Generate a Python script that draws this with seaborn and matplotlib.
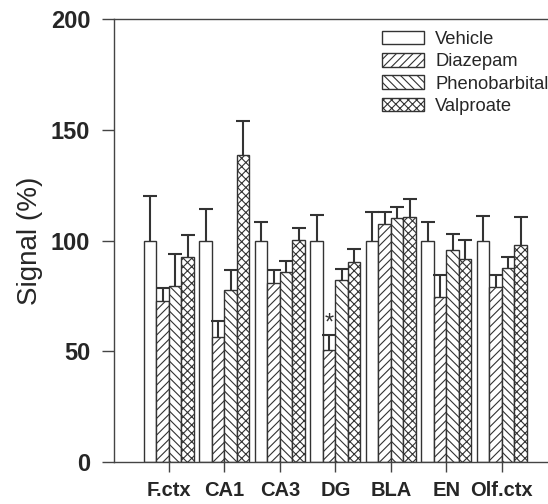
import matplotlib
matplotlib.use("Agg")
import matplotlib.pyplot as plt
import seaborn as sns
import pandas as pd
import numpy as np

regions = ["F.ctx", "CA1", "CA3", "DG", "BLA", "EN", "Olf.ctx"]
treatments = ["Vehicle", "Diazepam", "Phenobarbital", "Valproate"]
vehicle = [100, 100, 100, 100, 100, 100, 100]
vehicle_se = [20.0, 14.0, 8.2, 11.5, 12.7, 8.4, 11.2]
diazepam = [72.5, 56.6, 81.0, 50.6, 107.4, 74.6, 78.9]
diazepam_se = [6.0, 7.0, 5.7, 6.7, 5.3, 9.8, 5.7]
phenobarbital = [79.5, 77.7, 85.6, 82.2, 110.0, 95.7, 87.7]
phenobarbital_se = [14.5, 9.0, 5.0, 4.8, 5.0, 7.4, 4.9]
valproate = [92.4, 138.6, 100.2, 90.4, 110.7, 91.8, 98.1]
valproate_se = [10.0, 15.4, 5.3, 5.8, 7.9, 8.3, 12.6]
significant = [("DG", "Diazepam")]

means = [vehicle, diazepam, phenobarbital, valproate]
ses = [vehicle_se, diazepam_se, phenobarbital_se, valproate_se]
rows = []
for t, m, s in zip(treatments, means, ses):
    for r, v, e in zip(regions, m, s):
        rows.append({"region": r, "treatment": t, "value": v, "se": e})
df = pd.DataFrame(rows)

sns.set_style("ticks")
plt.rcParams["font.family"] = ["Liberation Sans", "DejaVu Sans"]
plt.rcParams["hatch.linewidth"] = 0.8
plt.rcParams["hatch.color"] = "#222222"

fig = plt.figure(figsize=(5.48, 5.04), dpi=100)
ax = fig.add_axes([0.208, 0.0833, 0.792, 0.879])

sns.barplot(data=df, x="region", y="value", hue="treatment", order=regions,
            hue_order=treatments, palette=["white"] * 4, width=0.9,
            errorbar=None, edgecolor="#333333", linewidth=1.0, ax=ax, legend=False)

hatches = ["", "////", "\\\\\\\\", "xxxx"]
for cont, h, t, s in zip(ax.containers, hatches, treatments, ses):
    for patch, r, e in zip(cont.patches, regions, s):
        patch.set_hatch(h)
        x0 = patch.get_x()
        w = patch.get_width()
        top = patch.get_height()
        xc = x0 + w / 2
        ax.vlines(xc, top, top + e, color="#333333", lw=1.5, zorder=3)
        ax.hlines(top + e, xc - w * 0.55, xc + w * 0.55, color="#333333", lw=1.5, zorder=3)
        if (r, t) in significant:
            ax.text(xc, top + e + 0.3, "*", ha="center", va="bottom",
                    fontsize=17, color="#333333")
    cont.set_label(t)

leg = ax.legend(ax.containers, treatments, loc="upper left",
                bbox_to_anchor=((382 - 114) / 434, 0.973), frameon=False,
                fontsize=13.2, handlelength=2.3, handleheight=0.75,
                labelspacing=0.28, handletextpad=0.6, borderaxespad=0.0,
                borderpad=0.0)

ax.set_ylim(0, 200)
ax.set_xlim(-0.99, 6.83)
ax.set_yticks([0, 50, 100, 150, 200])
ax.set_xlabel("")
ax.set_ylabel("Signal (%)", fontsize=20, labelpad=6)
ax.tick_params(axis="y", labelsize=17, length=9, width=1, color="#444444", pad=8)
ax.tick_params(axis="x", labelsize=14.5, length=7, width=1, color="#444444", pad=7)
for lab in ax.get_yticklabels() + ax.get_xticklabels():
    lab.set_fontweight("bold")
for sp in ["left", "top", "bottom"]:
    ax.spines[sp].set_color("#444444")
    ax.spines[sp].set_linewidth(1.0)
    ax.spines[sp].set_visible(True)
ax.spines["right"].set_visible(False)

fig.savefig("out.png", dpi=100)
